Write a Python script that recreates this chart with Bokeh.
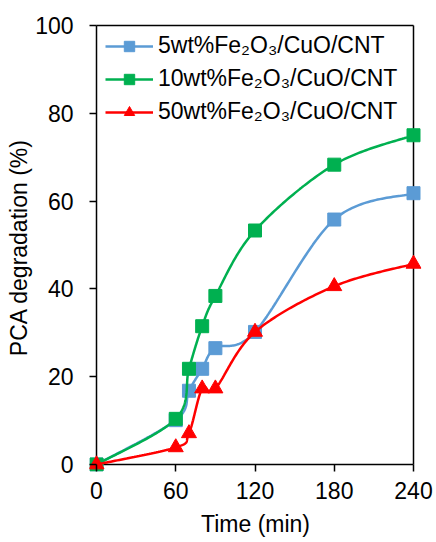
import numpy as np
from bokeh.plotting import figure
from bokeh.models import Legend, LegendItem, FixedTicker, Range1d
from bokeh.embed import file_html
from bokeh.resources import INLINE

# ---- data ----
time_min = [0, 60, 70, 80, 90, 120, 180, 240]
deg_5wt = [0, 10.1, 16.8, 21.8, 26.5, 30.2, 55.8, 61.8]
deg_10wt = [0, 10.4, 21.8, 31.5, 38.4, 53.3, 68.3, 75.0]
deg_50wt = [0, 3.9, 7.1, 17.3, 17.3, 30.2, 40.6, 45.7]
series_labels = ["5wt%Fe\u2082O\u2083/CuO/CNT",
                 "10wt%Fe\u2082O\u2083/CuO/CNT",
                 "50wt%Fe\u2082O\u2083/CuO/CNT"]
x_ticks = [0, 60, 120, 180, 240]
y_ticks = [0, 20, 40, 60, 80, 100]
x_title = "Time (min)"
y_title = "PCA degradation (%)"

colors = ["#5B9BD5", "#00B050", "#FF0000"]
markers = ["square", "square", "triangle"]
FONT = "Liberation Sans"
FS = "23px"


def smooth(xs, ys, n=40):
    """Excel-like smoothed line: cubic Bezier with Catmull-Rom control points."""
    P = np.column_stack([np.asarray(xs, float), np.asarray(ys, float)])
    out = [P[0]]
    t = np.linspace(0, 1, n)[1:, None]
    for i in range(len(P) - 1):
        p0 = P[i - 1] if i > 0 else P[i]
        p1, p2 = P[i], P[i + 1]
        p3 = P[i + 2] if i + 2 < len(P) else P[i + 1]
        c1 = p1 + (p2 - p0) / 6.0
        c2 = p2 - (p3 - p1) / 6.0
        seg = (1 - t) ** 3 * p1 + 3 * (1 - t) ** 2 * t * c1 + 3 * (1 - t) * t ** 2 * c2 + t ** 3 * p2
        out.extend(seg)
    out = np.array(out)
    return out[:, 0], out[:, 1]


# layout in pixels (figure coordinates)
W, H = 436, 542
AX_LEFT, AX_RIGHT = 96, 413      # x = 0 .. 240
AX_TOP, AX_BOTTOM = 25, 464      # y = 100 .. 0
TICK = 7
PAD_L, PAD_R, PAD_T, PAD_B = TICK, 8, 2, TICK

x0, x1 = x_ticks[0], x_ticks[-1]
y0, y1 = y_ticks[0], y_ticks[-1]
xu = (x1 - x0) / (AX_RIGHT - AX_LEFT)
yu = (y1 - y0) / (AX_BOTTOM - AX_TOP)

p = figure(width=W, height=H,
           x_range=Range1d(x0 - PAD_L * xu, x1 + PAD_R * xu),
           y_range=Range1d(y0 - PAD_B * yu, y1 + PAD_T * yu),
           output_backend="svg", toolbar_location=None,
           min_border_left=AX_LEFT - PAD_L, min_border_right=W - AX_RIGHT - PAD_R,
           min_border_top=AX_TOP - PAD_T, min_border_bottom=H - AX_BOTTOM - PAD_B)
p.background_fill_color = "white"
p.border_fill_color = "white"
p.outline_line_color = None
p.xgrid.visible = False
p.ygrid.visible = False

# plot box: axis lines (left, bottom) and top/right border
p.segment(x0=[x0, x0, x0, x1], y0=[y0, y0, y1, y0],
          x1=[x0, x1, x1, x1], y1=[y1, y0, y1, y1],
          line_color="black", line_width=1.5)

items = []
for ys, col, mk, lab in zip([deg_5wt, deg_10wt, deg_50wt], colors, markers, series_labels):
    sx, sy = smooth(time_min, ys)
    r1 = p.line(sx, sy, line_color=col, line_width=2.5)
    size = 13 if mk == "square" else 15
    r2 = p.scatter(time_min, ys, marker=mk, size=size, fill_color=col, line_color=col)
    items.append(LegendItem(label=lab, renderers=[r1, r2]))

legend = Legend(items=items, location=(16, 346))
legend.margin = 0
legend.padding = 0
legend.border_line_alpha = 0
legend.background_fill_alpha = 0
legend.glyph_width = 48
legend.glyph_height = 26
legend.label_height = 26
legend.spacing = 6
legend.label_standoff = 5
legend.label_text_font = FONT
legend.label_text_font_size = FS
legend.label_text_color = "black"
p.add_layout(legend)

for ax in (p.xaxis[0], p.yaxis[0]):
    ax.axis_line_color = None
    ax.major_tick_line_color = "black"
    ax.major_tick_line_width = 1.5
    ax.major_tick_out = 0
    ax.major_tick_in = TICK
    ax.minor_tick_out = 0
    ax.minor_tick_in = 0
    ax.major_label_text_font = FONT
    ax.major_label_text_font_size = FS
    ax.major_label_text_color = "black"
    ax.axis_label_text_font = FONT
    ax.axis_label_text_font_size = FS
    ax.axis_label_text_font_style = "normal"
    ax.axis_label_text_color = "black"

p.xaxis.ticker = FixedTicker(ticks=x_ticks)
p.yaxis.ticker = FixedTicker(ticks=y_ticks)
p.xaxis.axis_label = x_title
p.yaxis.axis_label = y_title
p.xaxis.major_label_standoff = 10
p.xaxis.axis_label_standoff = 9
p.yaxis.major_label_standoff = 16
p.yaxis.axis_label_standoff = 0

open("out.html", "w").write(file_html(p, INLINE))
